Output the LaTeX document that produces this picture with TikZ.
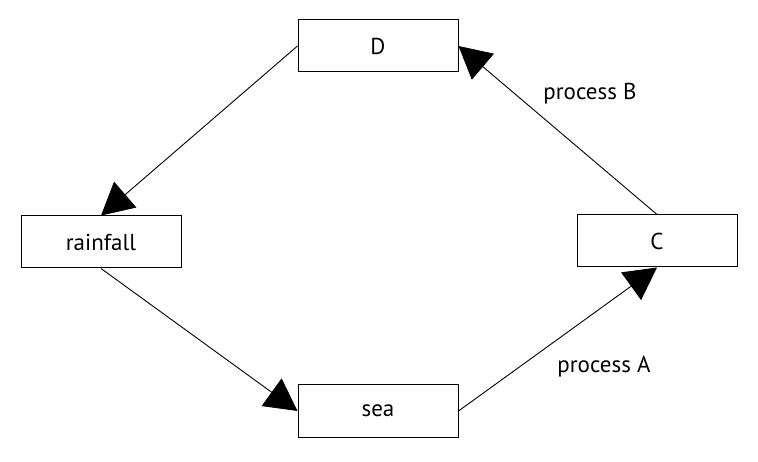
\documentclass[tikz,border=0pt]{standalone}
\usepackage{fontspec}
\setmainfont{PT Sans}
\usetikzlibrary{arrows.meta}
\begin{document}
\begin{tikzpicture}[x=1pt,y=-1pt,
  box/.style={draw, line width=1pt, rectangle, minimum width=160pt, minimum height=52pt, inner sep=0pt, font=\fontsize{23}{27}\selectfont},
  conn/.style={line width=0.9pt, -{Triangle[length=32pt,width=34pt]}},
  lbl/.style={font=\fontsize{23}{27}\selectfont}]
\useasboundingbox (0,0) rectangle (758,462);
\node[box] (D) at (378,46) {D};
\node[box] (rain) at (101,242) {rainfall};
\node[box] (C) at (657,241) {C};
\node[box] (sea) at (378,411) {sea};
\draw[conn] (D.west) -- (rain.north);
\draw[conn] (rain.south) -- (sea.west);
\draw[conn] (sea.east) -- (C.south);
\draw[conn] (C.north) -- (D.east);
\node[lbl] (pB) at (590,94) {process B};
\node[lbl] (pA) at (604,367) {process A};
\end{tikzpicture}
\end{document}
